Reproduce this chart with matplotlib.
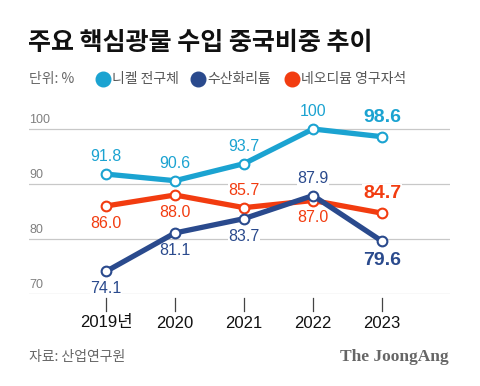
import matplotlib
matplotlib.use("Agg")
import matplotlib.pyplot as plt
from matplotlib.lines import Line2D
import matplotlib.transforms as mtransforms

plt.rcParams['font.family'] = ['Noto Sans CJK KR', 'DejaVu Sans']

years = ["2019년", "2020", "2021", "2022", "2023"]
nickel = [91.8, 90.6, 93.7, 100, 98.6]
lithium = [74.1, 81.1, 83.7, 87.9, 79.6]
neodym = [86.0, 88.0, 85.7, 87.0, 84.7]
series_names = ["니켈 전구체", "수산화리튬", "네오디뮴 영구자석"]
yticks = [70, 80, 90, 100]

c_nickel = "#1ba3d1"
c_lith = "#2a4a8d"
c_neo = "#f23c10"

# label placement: +1 above, -1 below
pos_nickel = [1, 1, 1, 1, 1]
pos_lith = [-1, -1, -1, 1, -1]
pos_neo = [-1, -1, 1, -1, 1]

W, H = 480, 386
fig = plt.figure(figsize=(4.8, 3.86), dpi=100)
ax_left, ax_right = 29, 450
y70, ytop = 294, 120
ax = fig.add_axes([ax_left / W, (H - y70) / H, (ax_right - ax_left) / W, (y70 - ytop) / H])
ax.set_ylim(70, 70 + (y70 - ytop) / 55 * 10)
ax.set_xlim(-77 / 69, 344 / 69)
ax.axis('off')

num_font = ['Liberation Sans', 'Noto Sans CJK KR']

for v in yticks:
    ax.axhline(v, color="#c8c8c8", lw=0.9, zorder=0)
    ax.text(-77 / 69, v + 0.6, str(v), color="#808080", fontsize=9, family=num_font,
            ha='left', va='bottom', zorder=0)

x = list(range(len(years)))
trans = mtransforms.blended_transform_factory(ax.transData, ax.transAxes)
for i, lab in enumerate(years):
    ax.plot([i, i], [-4 / 174, -17 / 174], color="#444444", lw=0.9, transform=trans, clip_on=False)
    ax.text(i, -29 / 174, lab, transform=trans, ha='center', va='center', fontsize=12,
            family=['Liberation Sans', 'Noto Sans CJK KR'], color="#111111")

def draw(vals, color, pos, z):
    ax.plot(x, vals, color=color, lw=3.8, marker='o', ms=7, mfc='white', mec=color, mew=1.5,
            zorder=z, clip_on=False, solid_joinstyle='round')
    for i, (v, p) in enumerate(zip(vals, pos)):
        last = i == len(vals) - 1
        txt = f"{v:g}" if v == 100 else f"{v:.1f}"
        ax.annotate(txt, (i, v), xytext=(0, 12.5 * p + (1.5 * p if last else 0)),
                    textcoords='offset points', ha='center', va='center',
                    fontsize=14 if last else 11.5, fontweight='bold' if last else 'normal',
                    color=color, family=num_font, zorder=1,
                    bbox=dict(boxstyle='square,pad=0.05', fc='white', ec='none'))

draw(nickel, c_nickel, pos_nickel, 3)
draw(neodym, c_neo, pos_neo, 4)
draw(lithium, c_lith, pos_lith, 5)

# title
fig.text(28 / W, 1 - 43 / H, "주요 핵심광물 수입 중국비중 추이", fontsize=18, fontweight=900,
         ha='left', va='center', color="#111111")

# legend row
ly = 1 - 79 / H
fig.text(29 / W, ly, "단위: %", fontsize=10, color="#666666", ha='left', va='center')
leg_x = [103, 198, 292]
for lx, name, col in zip(leg_x, series_names, [c_nickel, c_lith, c_neo]):
    fig.add_artist(Line2D([lx / W], [ly], marker='o', ms=10.5, color=col, mec=col,
                          transform=fig.transFigure, linestyle='none'))
    fig.text((lx + 9) / W, ly, name, fontsize=10, color="#555555", ha='left', va='center')

# footer
fig.text(29 / W, 1 - 357 / H, "자료: 산업연구원", fontsize=10, color="#666666", ha='left', va='center')
fig.text(449 / W, 1 - 357 / H, "The JoongAng", fontsize=12.5, fontweight='bold',
         family=['Liberation Serif', 'DejaVu Serif'], color="#666666", ha='right', va='center')

fig.savefig("out.png", dpi=100, facecolor='white')
